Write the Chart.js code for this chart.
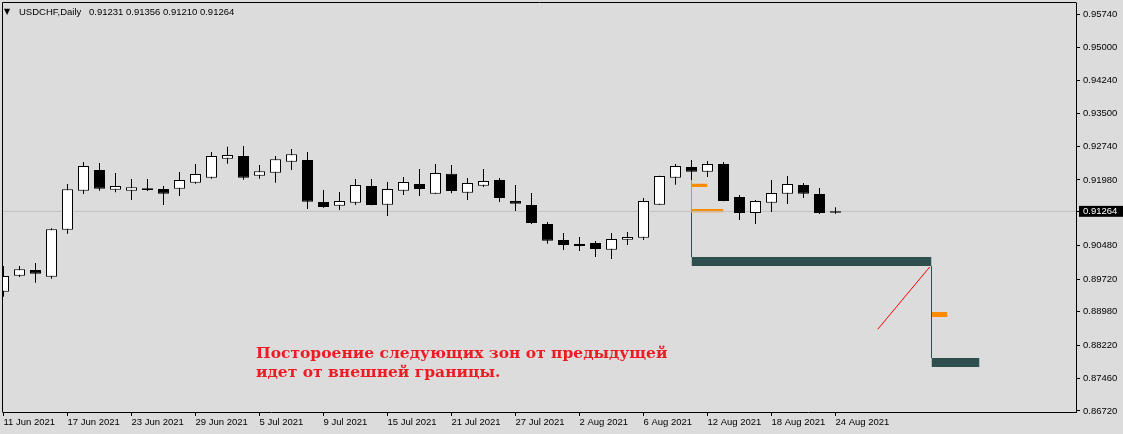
<!DOCTYPE html>
<html>
<head>
<meta charset="utf-8">
<script src="https://cdn.jsdelivr.net/npm/chart.js@4.4.1/dist/chart.umd.min.js"></script>
<style>
  html, body { margin: 0; padding: 0; background: #dcdcdc; }
  #wrap { position: relative; width: 1123px; height: 434px; overflow: hidden; background: #dcdcdc; }
  canvas { display: block; }
  .hdr { position: absolute; top: 6px; line-height: 11px; font-size: 9.5px;
         font-family: 'Liberation Sans', sans-serif; color: #000; white-space: pre; }
  .note { position: absolute; left: 256px; top: 343px; line-height: 19px; font: bold 15.5px 'DejaVu Serif', serif;
          color: #ec1c24; white-space: nowrap; }
</style>
</head>
<body>
<div id="wrap">
  <canvas id="chart" width="1123" height="434"></canvas>
  <div class="hdr" style="left:4px;font-size:8px;font-family:'DejaVu Sans'">▼</div>
  <div class="hdr" style="left:19px">USDCHF,Daily</div>
  <div class="hdr" id="ohlc" style="left:89px"></div>
  <div class="note">Постороение следующих зон от предыдущей<br>идет от внешней границы.</div>
</div>
<script>
// USDCHF Daily, 11 Jun - 24 Aug 2021 (бар 0 = 11 Jun)
const opens = [0.89436, 0.89800, 0.89929, 0.89777, 0.90847, 0.91734, 0.92205, 0.91757, 0.91734, 0.91789,
               0.91773, 0.91780, 0.91916, 0.92030, 0.92463, 0.92524, 0.92076, 0.92144, 0.92394, 0.92433,
               0.91477, 0.91393, 0.91461, 0.91841, 0.91416, 0.91734, 0.91887, 0.91666, 0.92121, 0.91689,
               0.91848, 0.91978, 0.91500, 0.91409, 0.90976, 0.90612, 0.90521, 0.90544, 0.90391, 0.90619,
               0.90665, 0.91416, 0.92030, 0.92274, 0.92167, 0.92342, 0.91591, 0.91227, 0.91461, 0.91666,
               0.91864, 0.91659, 0.91231];
const highs = [0.90020, 0.90020, 0.90089, 0.90879, 0.91887, 0.92387, 0.92365, 0.92137, 0.92001, 0.92001,
               0.91841, 0.92160, 0.92342, 0.92615, 0.92736, 0.92752, 0.92319, 0.92524, 0.92683, 0.92615,
               0.91750, 0.91705, 0.92001, 0.92001, 0.91932, 0.92046, 0.92228, 0.92342, 0.92319, 0.92023,
               0.92228, 0.92023, 0.91864, 0.91682, 0.91022, 0.90772, 0.90681, 0.90589, 0.90772, 0.90794,
               0.91568, 0.92075, 0.92342, 0.92433, 0.92410, 0.92387, 0.91636, 0.91523, 0.91978, 0.92069,
               0.91910, 0.91796, 0.91356];
const lows = [0.89322, 0.89770, 0.89640, 0.89731, 0.90756, 0.91659, 0.91734, 0.91698, 0.91523, 0.91727,
              0.91409, 0.91614, 0.91894, 0.92007, 0.92349, 0.91985, 0.92007, 0.91916, 0.92205, 0.91318,
              0.91347, 0.91295, 0.91409, 0.91400, 0.91158, 0.91636, 0.91614, 0.91660, 0.91675, 0.91523,
              0.91819, 0.91477, 0.91272, 0.90976, 0.90528, 0.90385, 0.90362, 0.90225, 0.90180, 0.90498,
              0.90612, 0.91410, 0.91871, 0.91978, 0.92046, 0.91495, 0.91068, 0.90976, 0.91250, 0.91432,
              0.91568, 0.91204, 0.91210];
const closes = [0.89793, 0.89945, 0.89845, 0.90856, 0.91766, 0.92296, 0.91780, 0.91841, 0.91812, 0.91750,
                0.91666, 0.91978, 0.92114, 0.92524, 0.92547, 0.92030, 0.92176, 0.92449, 0.92563, 0.91484,
                0.91363, 0.91500, 0.91864, 0.91409, 0.91773, 0.91932, 0.91773, 0.92137, 0.91727, 0.91910,
                0.91955, 0.91568, 0.91438, 0.90999, 0.90596, 0.90498, 0.90476, 0.90407, 0.90635, 0.90681,
                0.91500, 0.92069, 0.92296, 0.92167, 0.92342, 0.91500, 0.91227, 0.91500, 0.91682, 0.91887,
                0.91666, 0.91227, 0.91264];

// подписи шкалы времени (каждые 4 бара)
const tickBars = [0, 4, 8, 12, 16, 20, 24, 28, 32, 36, 40, 44, 48, 52];
const tickDates = ['11 Jun 2021', '17 Jun 2021', '23 Jun 2021', '29 Jun 2021', '5 Jul 2021', '9 Jul 2021',
                   '15 Jul 2021', '21 Jul 2021', '27 Jul 2021', '2 Aug 2021', '6 Aug 2021', '12 Aug 2021',
                   '18 Aug 2021', '24 Aug 2021'];
// шкала цены
const priceTicks = [0.95740, 0.95000, 0.94240, 0.93500, 0.92740, 0.91980,
                    0.90480, 0.89720, 0.88980, 0.88220, 0.87460, 0.86720];
const bid = closes[closes.length - 1];

// зоны (DarkSlateGray)
const zoneFrom = [43, 58];
const zoneTo = [58, 61];
const zoneTop = [0.90225, 0.87927];
const zoneBottom = [0.90020, 0.87722];
// оранжевые метки
const markFrom = [43, 43, 58];
const markTo = [44, 45, 59];
const markTop = [0.91894, 0.91318, 0.88974];
const markBottom = [0.91818, 0.91243, 0.88860];
// вертикальные связки
const linkBar = [43, 43, 58];
const linkFrom = [0.91994, 0.91243, 0.90020];
const linkTo = [0.91243, 0.90225, 0.87927];
// красная линия
const rayBars = [54.64, 57.89];
const rayPrices = [0.88580, 0.89998];

const ORANGE = '#ff8c00';
const SLATE = '#2f4f4f';
const LINK_COLORS = [ORANGE, SLATE, SLATE];
const FONT = "'Liberation Sans', sans-serif";

const X_MIN = -0.03125, X_MAX = 67.03125;
const Y_MIN = 0.86697, Y_MAX = 0.96006;

document.getElementById('ohlc').textContent =
    [opens, highs, lows, closes].map(a => a[a.length - 1].toFixed(5)).join(' ');

function lineSet(points, color, order) {
    return {
        type: 'line', data: points, borderColor: color, borderWidth: 1,
        pointRadius: 0, tension: 0, fill: false, order: order
    };
}

function boxSet(x0, x1, top, bottom, color) {
    return {
        type: 'line',
        data: [{ x: x0, y: top }, { x: x1, y: top }],
        fill: { value: bottom },
        backgroundColor: color,
        borderColor: 'rgba(0,0,0,0)',
        borderWidth: 0,
        pointRadius: 0,
        order: 7
    };
}

const datasets = [];

// тела свечей
datasets.push({
    type: 'bar',
    data: closes.map((c, i) => ({ x: i, y: [Math.min(opens[i], c), Math.max(opens[i], c)] })),
    backgroundColor: closes.map((c, i) => c >= opens[i] ? '#ffffff' : '#000000'),
    borderColor: '#000',
    borderWidth: 1,
    borderSkipped: false,
    barThickness: 11,
    grouped: false,
    inflateAmount: 0,
    order: 1
});
// тени
datasets.push({
    type: 'bar',
    data: lows.map((l, i) => ({ x: i, y: [l, highs[i]] })),
    backgroundColor: '#000',
    borderWidth: 0,
    barThickness: 1,
    grouped: false,
    inflateAmount: 0,
    order: 2
});

datasets.push(lineSet([{ x: X_MIN, y: bid }, { x: X_MAX, y: bid }], '#c0c0c0', 5));
datasets.push(lineSet(rayBars.map((b, i) => ({ x: b, y: rayPrices[i] })), '#ff0000', 3));
linkBar.forEach((b, i) => {
    datasets.push(lineSet([{ x: b, y: linkFrom[i] }, { x: b, y: linkTo[i] }], LINK_COLORS[i], 4));
});
zoneFrom.forEach((x0, i) => datasets.push(boxSet(x0, zoneTo[i], zoneTop[i], zoneBottom[i], SLATE)));
markFrom.forEach((x0, i) => datasets.push(boxSet(x0, markTo[i], markTop[i], markBottom[i], ORANGE)));

// рамка графика слева и сверху
const framePlugin = {
    id: 'frame',
    afterDraw(chart) {
        const { ctx, chartArea } = chart;
        ctx.save();
        ctx.strokeStyle = '#000';
        ctx.lineWidth = 1;
        ctx.beginPath();
        ctx.moveTo(chartArea.left - 0.5, chartArea.bottom + 0.5);
        ctx.lineTo(chartArea.left - 0.5, chartArea.top - 0.5);
        ctx.lineTo(chartArea.right + 0.5, chartArea.top - 0.5);
        ctx.stroke();
        ctx.restore();
    }
};

new Chart(document.getElementById('chart'), {
    type: 'bar',
    data: { datasets: datasets },
    plugins: [framePlugin],
    options: {
        responsive: false,
        animation: false,
        events: [],
        layout: { padding: { left: 3, top: 3, right: 0, bottom: 0 }, autoPadding: false },
        plugins: { legend: { display: false }, tooltip: { enabled: false } },
        scales: {
            x: {
                type: 'linear',
                min: X_MIN,
                max: X_MAX,
                offset: false,
                grid: { drawOnChartArea: false, drawTicks: true, tickLength: 4, color: '#000', offset: false },
                border: { display: true, color: '#000' },
                ticks: {
                    autoSkip: false, maxRotation: 0, minRotation: 0, align: 'start', padding: 1,
                    color: '#000', font: { family: FONT, size: 9.5 },
                    callback: v => {
                        const k = tickBars.indexOf(v);
                        return k < 0 ? '' : tickDates[k];
                    }
                },
                afterBuildTicks: s => { s.ticks = tickBars.map(v => ({ value: v })); },
                afterFit: s => { s.height = 22; s.paddingLeft = 0; s.paddingRight = 0; }
            },
            y: {
                type: 'linear',
                position: 'right',
                min: Y_MIN,
                max: Y_MAX,
                grid: { drawOnChartArea: false, drawTicks: true, tickLength: 4, color: '#000' },
                border: { display: true, color: '#000' },
                ticks: {
                    autoSkip: false, padding: 3,
                    color: c => c.tick && c.tick.value === bid ? '#fff' : '#000',
                    showLabelBackdrop: c => !!(c.tick && c.tick.value === bid),
                    backdropColor: '#000',
                    backdropPadding: { top: 0, bottom: 0, left: 4, right: 10 },
                    font: { family: FONT, size: 9.5, lineHeight: 1.15 },
                    callback: v => v.toFixed(5)
                },
                afterBuildTicks: s => { s.ticks = priceTicks.concat([bid]).map(v => ({ value: v })); },
                afterFit: s => { s.width = 47; s.paddingTop = 0; s.paddingBottom = 0; }
            }
        }
    }
});
</script>
</body>
</html>
